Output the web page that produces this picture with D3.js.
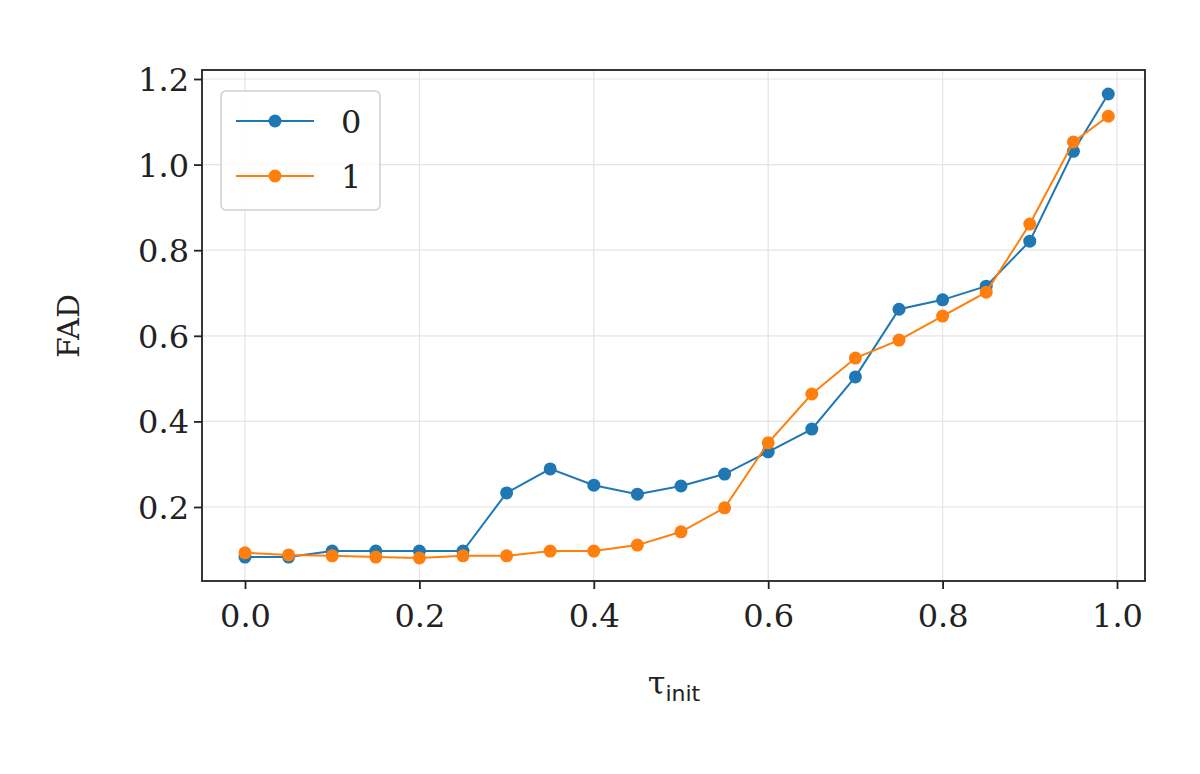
<!DOCTYPE html>
<html><head><meta charset="utf-8">
<script src="https://cdn.jsdelivr.net/npm/d3@7"></script>
<style>body{margin:0;background:#fff}svg{display:block}text{font-family:"DejaVu Serif",serif;fill:#222}</style>
</head><body><svg id="c" width="1200" height="774"></svg>
<script>
const xs = [0,0.05,0.1,0.15,0.2,0.25,0.3,0.35,0.4,0.45,0.5,0.55,0.6,0.65,0.7,0.75,0.8,0.85,0.9,0.95,0.99];
const s0 = [0.083,0.083,0.097,0.097,0.097,0.097,0.233,0.289,0.251,0.230,0.249,0.277,0.329,0.382,0.504,0.662,0.684,0.716,0.821,1.031,1.165];
const s1 = [0.093,0.088,0.086,0.083,0.081,0.086,0.086,0.097,0.097,0.111,0.142,0.198,0.350,0.464,0.548,0.590,0.646,0.702,0.861,1.053,1.113];
const xTicks = [0,0.2,0.4,0.6,0.8,1.0];
const yTicks = [0.2,0.4,0.6,0.8,1.0,1.2];
const series = [{name:"0",vals:s0,color:"#1f77b4"},{name:"1",vals:s1,color:"#ff7f0e"}];

const svg = d3.select("#c");
const L=202,R=1145,T=70,B=581;
const x = d3.scaleLinear().domain([0,1]).range([245,1117]);
const y = d3.scaleLinear().domain([0,1.2]).range([592.6,79]);

// grid
svg.selectAll(".gx").data(xTicks).enter().append("line")
  .attr("x1",d=>x(d)).attr("x2",d=>x(d)).attr("y1",T).attr("y2",B)
  .attr("stroke","#e4e4e4").attr("stroke-width",1.2);
svg.selectAll(".gy").data(yTicks).enter().append("line")
  .attr("y1",d=>y(d)).attr("y2",d=>y(d)).attr("x1",L).attr("x2",R)
  .attr("stroke","#e4e4e4").attr("stroke-width",1.2);

// axes
const xa = svg.append("g").attr("transform",`translate(0,${B})`)
  .call(d3.axisBottom(x).tickValues(xTicks).tickFormat(d3.format(".1f")).tickSize(8).tickSizeOuter(0));
const ya = svg.append("g").attr("transform",`translate(${L},0)`)
  .call(d3.axisLeft(y).tickValues(yTicks).tickFormat(d3.format(".1f")).tickSize(8).tickSizeOuter(0));
[xa,ya].forEach(g=>{g.select(".domain").remove();g.selectAll("line").attr("stroke","#222").attr("stroke-width",1.8);
  g.selectAll("text").attr("font-size",32).attr("font-family","DejaVu Serif").attr("fill","#222");});
xa.selectAll("text").attr("y",14).attr("dy","1em");
ya.selectAll("text").attr("x",-13).attr("dy","0.36em");

// series
const line = d3.line().x((d,i)=>x(xs[i])).y(d=>y(d));
series.forEach(s=>{
  svg.append("path").datum(s.vals).attr("d",line).attr("fill","none").attr("stroke",s.color).attr("stroke-width",2);
  svg.selectAll(null).data(s.vals).enter().append("circle")
    .attr("cx",(d,i)=>x(xs[i])).attr("cy",d=>y(d)).attr("r",6.5).attr("fill",s.color);
});

svg.append("rect").attr("x",L).attr("y",T).attr("width",R-L).attr("height",B-T)
  .attr("fill","none").attr("stroke","#222").attr("stroke-width",1.8);

// labels
svg.append("text").attr("transform","translate(79,326) rotate(-90)").attr("text-anchor","middle")
  .attr("font-size",30).text("FAD");
const xl = svg.append("text").attr("x",674).attr("y",694).attr("text-anchor","middle").attr("font-size",32);
xl.append("tspan").text("τ");
xl.append("tspan").attr("font-size",22).attr("font-family","DejaVu Sans").attr("dy",7).text("init");

// legend
const lg = svg.append("g");
lg.append("rect").attr("x",221).attr("y",91).attr("width",159).attr("height",119).attr("rx",5)
  .attr("fill","#fff").attr("fill-opacity",0.85).attr("stroke","#d0d0d0").attr("stroke-width",1.5);
series.forEach((s,i)=>{
  const yy = 121+i*55;
  lg.append("line").attr("x1",236).attr("x2",314).attr("y1",yy).attr("y2",yy).attr("stroke",s.color).attr("stroke-width",2);
  lg.append("circle").attr("cx",275).attr("cy",yy).attr("r",6.5).attr("fill",s.color);
  lg.append("text").attr("x",341).attr("y",yy+12).attr("font-size",32).text(s.name);
});
</script></body></html>
